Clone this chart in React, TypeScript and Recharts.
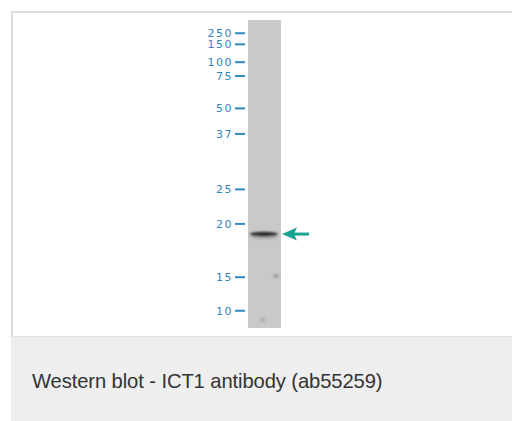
import { ComposedChart, XAxis, YAxis, Scatter, ReferenceArea } from 'recharts';

// marker ladder (kDa) and their migration, % of lane length from the well
const markerLabels = ['250', '150', '100', '75', '50', '37', '25', '20', '15', '10'];
const markerMigration = [4.3, 7.9, 13.7, 18.2, 28.7, 37.0, 55.0, 66.2, 83.5, 94.4];

// bands seen in the lane: position across lane (0..1), migration, strength
const bandLane = [0.48, 0.85, 0.45];
const bandMigration = [69.5, 83.1, 97.4];
const bandStrength = [1, 0.35, 0.2];

// the arrow points at the main band
const arrowMigration = [69.5];

const bands = bandLane.map((lane, i) => ({ lane, mig: bandMigration[i], s: bandStrength[i] }));
const arrows = arrowMigration.map((mig) => ({ lane: 1, mig }));

const BLUE = '#2f86c0';
const TEAL = '#17a593';

function MarkerTick(props: any) {
  const { x, y, payload } = props;
  const i = markerMigration.indexOf(payload.value);
  return (
    <g>
      <text
        x={x - 15}
        y={y}
        dy={4}
        textAnchor="end"
        fill={BLUE}
        fontSize={11}
        letterSpacing={1.5}
        fontFamily="DejaVu Sans, sans-serif"
      >
        {markerLabels[i]}
      </text>
      <line x1={x - 13} x2={x - 3} y1={y} y2={y} stroke={BLUE} strokeWidth={2} />
    </g>
  );
}

function renderBand(props: any) {
  const { cx, cy, payload } = props;
  const s = payload.s;
  const rx = s > 0.5 ? 14 : 3;
  const ry = s > 0.5 ? 2.2 : 1.4;
  return (
    <g>
      {s > 0.5 && <ellipse cx={cx} cy={cy + 3} rx={rx} ry={2} fill="#a8a8a8" filter="url(#blur)" />}
      <ellipse cx={cx} cy={cy} rx={rx} ry={ry} fill="#2c2c2c" fillOpacity={s} filter="url(#blur)" />
    </g>
  );
}

function renderArrow(props: any) {
  const { cx, cy } = props;
  const tip = cx + 1;
  return (
    <g>
      <path
        d={`M${tip},${cy} L${tip + 15},${cy - 6.5} L${tip + 12},${cy} L${tip + 15},${cy + 6.5} Z`}
        fill={TEAL}
      />
      <rect x={tip + 11} y={cy - 1.5} width={16} height={3} fill={TEAL} />
    </g>
  );
}

export default function App() {
  return (
    <div style={{ position: 'absolute', left: 0, top: 0, width: 512, height: 421, overflow: 'hidden', background: '#fff' }}>
      <div
        style={{
          position: 'absolute',
          left: 11,
          top: 11,
          width: 520,
          height: 323,
          borderTop: '2px solid #dddddd',
          borderLeft: '2px solid #dddddd',
          borderBottom: '1px solid #e2e3e2',
        }}
      />
      <div style={{ position: 'absolute', left: 11, top: 337, width: 520, height: 100, background: '#edeeed' }} />
      <div
        style={{
          position: 'absolute',
          left: 32,
          top: 370,
          fontFamily: 'Liberation Sans, Arial, sans-serif',
          fontSize: 20.2,
          letterSpacing: -0.1,
          color: '#333333',
          whiteSpace: 'nowrap',
        }}
      >
        Western blot - ICT1 antibody (ab55259)
      </div>
      <div style={{ position: 'absolute', left: 0, top: 0 }}>
        <ComposedChart width={512} height={336} margin={{ top: 20, right: 231, bottom: 8, left: 208 }}>
          <defs>
            <filter id="blur" x="-50%" y="-200%" width="200%" height="500%">
              <feGaussianBlur stdDeviation="0.9" />
            </filter>
          </defs>
          <XAxis type="number" dataKey="lane" domain={[0, 1]} hide />
          <YAxis
            type="number"
            dataKey="mig"
            domain={[0, 100]}
            reversed
            ticks={markerMigration}
            interval={0}
            width={40}
            axisLine={false}
            tickLine={false}
            tickSize={0}
            tickMargin={0}
            tick={<MarkerTick />}
          />
          <ReferenceArea x1={0} x2={1} y1={0} y2={100} fill="#c9c9c9" fillOpacity={1} stroke="none" />
          <Scatter data={bands} shape={renderBand} isAnimationActive={false} />
          <Scatter data={arrows} shape={renderArrow} isAnimationActive={false} />
        </ComposedChart>
      </div>
    </div>
  );
}
